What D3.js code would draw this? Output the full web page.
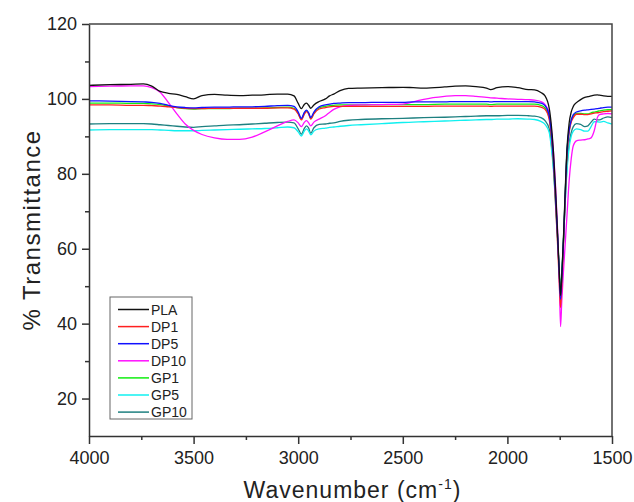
<!DOCTYPE html>
<html>
<head>
<meta charset="utf-8">
<script src="https://d3js.org/d3.v7.min.js"></script>
<style>
  body { margin: 0; background: #fff; }
  text { font-family: "Liberation Sans", Arial, sans-serif; fill: #222; }
</style>
</head>
<body>
<div id="chart"></div>
<script>
// Wavenumber grid (cm-1) shared by all spectra
const wavenumbers = [4000, 3900, 3800, 3740, 3700, 3660, 3620, 3580, 3540, 3500,
  3460, 3400, 3340, 3280, 3220, 3160, 3100, 3050, 3020, 3000,
  2985, 2970, 2960, 2950, 2940, 2925, 2900, 2870, 2850, 2830,
  2800, 2760, 2700, 2600, 2500, 2450, 2400, 2300, 2250, 2200,
  2150, 2100, 2080, 2050, 2000, 1950, 1900, 1870, 1840, 1820,
  1800, 1790, 1780, 1770, 1760, 1752, 1746, 1740, 1732, 1724,
  1715, 1705, 1695, 1685, 1670, 1650, 1630, 1615, 1600, 1585,
  1570, 1560, 1540, 1520, 1500];

// % Transmittance per sample
const pla = [103.6, 103.8, 103.9, 104.0, 103.4, 102.0, 101.5, 101.2, 100.6, 100.0,
  100.9, 101.2, 101.0, 100.9, 101.0, 101.1, 101.3, 101.3, 100.8, 98.8,
  97.4, 98.6, 98.9, 98.3, 97.5, 98.4, 99.3, 100.0, 100.8, 101.3,
  102.2, 102.8, 102.9, 103.0, 103.1, 103.0, 102.9, 103.2, 103.4, 103.5,
  103.3, 102.9, 102.5, 103.0, 103.3, 103.0, 102.5, 102.4, 101.7, 100.8,
  97.5, 93, 86, 76, 64, 54, 47.5, 53, 63, 75,
  87, 93.5, 96.5, 98.0, 99.0, 99.8, 100.4, 100.6, 100.8, 101.0,
  101.1, 101.0, 100.8, 100.7, 100.7];

const dp1 = [98.4, 98.4, 98.3, 98.3, 98.2, 98.1, 97.9, 97.7, 97.5, 97.4,
  97.4, 97.5, 97.5, 97.5, 97.5, 97.5, 97.6, 97.6, 97.3, 96.0,
  94.4, 96.0, 96.6, 96.0, 94.6, 96.0, 97.3, 97.7, 97.9, 98.0,
  98.0, 98.0, 98.0, 98.0, 98.0, 98.0, 98.0, 98.1, 98.1, 98.1,
  98.1, 98.1, 98.0, 98.1, 98.1, 98.1, 98.1, 98.1, 97.8, 97.2,
  94.5, 90, 83, 72, 61, 51, 44.3, 50, 61, 73,
  85, 91, 93.8, 95.0, 95.9, 95.9, 95.8, 95.8, 96.0, 96.2,
  96.3, 96.4, 96.6, 96.7, 96.8];

const dp5 = [99.5, 99.4, 99.3, 99.2, 99.1, 98.8, 98.3, 97.9, 97.7, 97.6,
  97.7, 97.8, 97.8, 97.9, 97.9, 98.0, 98.2, 98.3, 98.0, 96.5,
  94.8, 96.5, 97.0, 96.3, 95.0, 96.5, 97.9, 98.4, 98.6, 98.8,
  98.9, 99.0, 99.0, 99.1, 99.1, 99.2, 99.2, 99.2, 99.3, 99.3,
  99.3, 99.3, 99.2, 99.3, 99.3, 99.3, 99.3, 99.2, 98.9, 98.2,
  95.5, 91, 84, 74, 63, 53, 46.5, 52, 62, 74,
  86, 91.5, 94.3, 95.8, 96.5, 96.8, 97.0, 97.1, 97.2, 97.3,
  97.4, 97.5, 97.7, 97.8, 97.8];

const dp10 = [103.3, 103.4, 103.5, 103.5, 103.0, 101.8, 99.0, 96.0, 93.3, 91.6,
  90.5, 89.6, 89.2, 89.2, 89.8, 91.2, 92.8, 94.0, 94.4, 93.6,
  92.6, 93.8, 94.2, 93.6, 92.8, 93.8, 94.6, 95.5, 96.4, 97.2,
  97.9, 98.3, 98.4, 98.5, 98.6, 99.2, 99.9, 100.7, 100.9, 100.9,
  100.7, 100.4, 100.3, 100.2, 100.0, 99.9, 99.8, 99.7, 99.3, 98.5,
  96.0, 92, 86, 77, 65, 52, 39.2, 46, 54, 61,
  69, 78, 84, 87.5, 88.8, 89.0, 89.1, 89.3, 89.6, 91.5,
  95.0, 95.8, 96.0, 96.1, 96.0];

const gp1 = [98.9, 98.9, 98.8, 98.8, 98.7, 98.5, 98.1, 97.7, 97.4, 97.3,
  97.4, 97.4, 97.4, 97.5, 97.5, 97.6, 97.7, 97.8, 97.5, 96.1,
  94.6, 96.2, 96.8, 96.1, 94.7, 96.2, 97.6, 98.0, 98.2, 98.3,
  98.4, 98.4, 98.4, 98.5, 98.5, 98.5, 98.5, 98.6, 98.6, 98.6,
  98.6, 98.6, 98.5, 98.6, 98.6, 98.6, 98.6, 98.6, 98.3, 97.6,
  95, 90.5, 83.5, 73.5, 63, 54, 47.5, 53, 62.5, 74,
  86, 91.5, 94.2, 95.5, 96.1, 96.1, 96.0, 96.0, 96.3, 96.5,
  96.7, 96.8, 97.0, 97.1, 97.1];

const gp5 = [91.7, 91.8, 91.8, 91.8, 91.8, 91.7, 91.6, 91.5, 91.5, 91.5,
  91.6, 91.7, 91.8, 91.9, 92.0, 92.1, 92.3, 92.5, 92.3, 91.2,
  90.1, 91.5, 92.0, 91.4, 90.4, 91.4, 92.0, 92.2, 92.4, 92.5,
  92.7, 92.9, 93.1, 93.4, 93.7, 93.8, 93.9, 94.1, 94.2, 94.3,
  94.4, 94.5, 94.5, 94.6, 94.6, 94.7, 94.6, 94.5, 94.0, 93.2,
  91, 87, 81, 72, 62, 54, 48, 53, 62, 72,
  81, 87, 90, 91.4, 92.0, 91.8, 91.4, 91.4, 92.6, 93.9,
  93.9, 93.8, 94.0, 93.6, 93.3];

const gp10 = [93.3, 93.4, 93.4, 93.4, 93.3, 93.1, 92.9, 92.7, 92.5, 92.4,
  92.6, 92.8, 93.0, 93.1, 93.3, 93.5, 93.7, 93.8, 93.6, 92.0,
  90.6, 92.2, 92.8, 92.2, 90.8, 92.3, 93.2, 93.3, 93.5, 93.6,
  94.0, 94.3, 94.5, 94.7, 94.8, 94.9, 95.0, 95.1, 95.2, 95.3,
  95.4, 95.5, 95.5, 95.5, 95.6, 95.6, 95.5, 95.4, 95.0, 94.2,
  92, 88, 82, 73, 63, 53, 46.5, 52, 62, 72,
  82, 88, 91, 92.6, 93.4, 93.2, 92.6, 92.8, 93.8, 94.6,
  94.4, 94.4, 94.9, 95.2, 95.0];

const seriesNames = ["PLA", "DP1", "DP5", "DP10", "GP1", "GP5", "GP10"];
const seriesValues = [pla, dp1, dp5, dp10, gp1, gp5, gp10];
const seriesColors = ["#111111", "#ff2020", "#1010ff", "#ff10ff", "#10ee10", "#10f0f0", "#1e8080"];

const xTicks = [4000, 3500, 3000, 2500, 2000, 1500];
const yTicks = [20, 40, 60, 80, 100, 120];

const width = 634, height = 502;
const margin = { top: 24, right: 22, bottom: 66, left: 89 };

const svg = d3.select("#chart")
  .append("svg")
  .attr("width", width)
  .attr("height", height);

const x = d3.scaleLinear()
  .domain([4000, 1500])
  .range([margin.left, width - margin.right]);

const y = d3.scaleLinear()
  .domain([10, 120])
  .range([height - margin.bottom, margin.top]);

// Spectra, drawn in reverse so PLA ends up on top
const line = d3.line()
  .x((d, i) => x(wavenumbers[i]))
  .y(d => y(d))
  .curve(d3.curveMonotoneX);

const order = [6, 5, 4, 3, 1, 2, 0];
svg.append("g")
  .selectAll("path")
  .data(order)
  .enter()
  .append("path")
  .attr("d", i => line(seriesValues[i]))
  .attr("fill", "none")
  .attr("stroke", i => seriesColors[i])
  .attr("stroke-width", 1.3);

// Axes
const axisColor = "#333";

svg.append("g")
  .attr("transform", `translate(0,${height - margin.bottom})`)
  .call(d3.axisBottom(x).tickValues(xTicks).tickFormat(d3.format("d"))
    .tickSize(8).tickSizeOuter(0).tickPadding(7));

svg.append("g")
  .attr("transform", `translate(0,${height - margin.bottom})`)
  .call(d3.axisBottom(x).tickValues([3750, 3250, 2750, 2250, 1750]).tickSize(4).tickFormat(""))
  .call(g => g.select(".domain").remove());

svg.append("g")
  .attr("transform", `translate(${margin.left},0)`)
  .call(d3.axisLeft(y).tickValues(yTicks).tickSize(7).tickSizeOuter(0).tickPadding(5));

svg.append("g")
  .attr("transform", `translate(${margin.left},0)`)
  .call(d3.axisLeft(y).tickValues([30, 50, 70, 90, 110]).tickSize(4).tickFormat(""))
  .call(g => g.select(".domain").remove());

svg.selectAll(".domain, .tick line")
  .attr("stroke", axisColor)
  .attr("stroke-width", 1.5);

svg.selectAll(".tick text")
  .style("font-size", "18px")
  .style("font-family", "'Liberation Sans', Arial, sans-serif")
  .attr("fill", "#222");

// Top and right frame
svg.append("path")
  .attr("d", `M${x(4000)},${y(120)}H${x(1500)}V${y(10)}`)
  .attr("fill", "none")
  .attr("stroke", "#444")
  .attr("stroke-width", 1.5);

// Axis titles
const xTitle = svg.append("text")
  .attr("x", (margin.left + width - margin.right) / 2 + 2)
  .attr("y", 498)
  .attr("text-anchor", "middle")
  .style("font-size", "23px")
  .style("letter-spacing", "1px");
xTitle.append("tspan").text("Wavenumber (cm");
xTitle.append("tspan").attr("dy", -9).style("font-size", "14px").text("-1");
xTitle.append("tspan").attr("dy", 9).text(")");

svg.append("text")
  .attr("transform", `translate(40,${(margin.top + height - margin.bottom) / 2}) rotate(-90)`)
  .attr("text-anchor", "middle")
  .style("font-size", "24px")
  .style("letter-spacing", "1.5px")
  .text("% Transmittance");

// Legend
const legend = svg.append("g").attr("transform", "translate(110,297)");
legend.append("rect")
  .attr("width", 82)
  .attr("height", 122)
  .attr("fill", "#fff")
  .attr("stroke", "#666")
  .attr("stroke-width", 1);

const items = legend.selectAll("g.item")
  .data(seriesNames)
  .enter()
  .append("g")
  .attr("class", "item")
  .attr("transform", (d, i) => `translate(0,${12.5 + i * 17.1})`);

items.append("line")
  .attr("x1", 8)
  .attr("x2", 39)
  .attr("stroke", (d, i) => seriesColors[i])
  .attr("stroke-width", 1.5);

items.append("text")
  .attr("x", 41)
  .attr("dy", "0.36em")
  .style("font-size", "14px")
  .text(d => d);
</script>
</body>
</html>
